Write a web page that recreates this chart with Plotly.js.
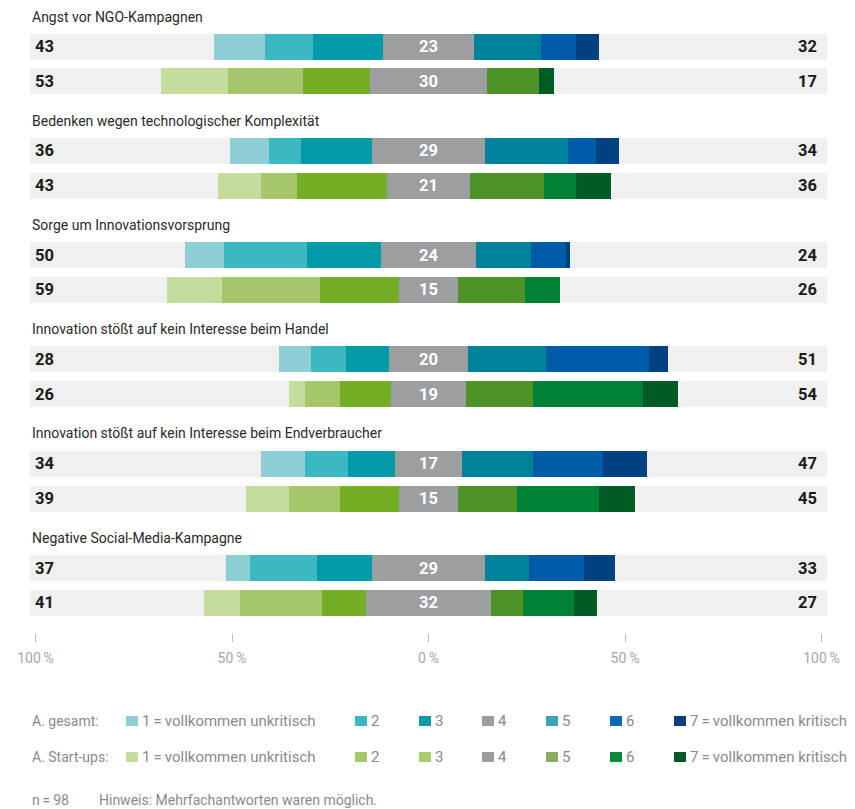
<!DOCTYPE html>
<html><head><meta charset="utf-8">
<script src="https://cdn.plot.ly/plotly-3.0.1.min.js"></script>
<style>html,body{margin:0;padding:0;background:#fff}#chart{width:855px;height:809px}</style>
</head><body><div id="chart"></div>
<script>
// ---------- data ----------
const categories = [
  "Angst vor NGO-Kampagnen",
  "Bedenken wegen technologischer Komplexität",
  "Sorge um Innovationsvorsprung",
  "Innovation stößt auf kein Interesse beim Handel",
  "Innovation stößt auf kein Interesse beim Endverbraucher",
  "Negative Social-Media-Kampagne"
];
const seriesNames = ["A. gesamt:", "A. Start-ups:"];
const levelLabels = ["1\u2009=\u2009vollkommen unkritisch", "2", "3", "4", "5", "6", "7\u2009=\u2009vollkommen kritisch"];

// A. gesamt, share per rating level (1..7) for each category
const gesamt1 = [13, 10, 10,  8, 11,  6];
const gesamt2 = [12,  8, 21,  9, 11, 17];
const gesamt3 = [18, 18, 19, 11, 12, 14];
const gesamt4 = [23, 29, 24, 20, 17, 29];
const gesamt5 = [17, 21, 14, 20, 18, 11];
const gesamt6 = [ 9,  7,  9, 26, 18, 14];
const gesamt7 = [ 6,  6,  1,  5, 11,  8];
// A. Start-ups
const startups1 = [17, 11, 14,  4, 11,  9];
const startups2 = [19,  9, 25,  9, 13, 21];
const startups3 = [17, 23, 20, 13, 15, 11];
const startups4 = [30, 21, 15, 19, 15, 32];
const startups5 = [13, 19, 17, 17, 15,  8];
const startups6 = [ 0,  8,  9, 28, 21, 13];
const startups7 = [ 4,  9,  0,  9,  9,  6];
// printed totals (1–3 left, 5–7 right)
const gesamtLeft   = [43, 36, 50, 28, 34, 37];
const gesamtRight  = [32, 34, 24, 51, 47, 33];
const startupsLeft  = [53, 43, 59, 26, 39, 41];
const startupsRight = [17, 36, 26, 54, 45, 27];
// axis
const tickVals = [-100, -50, 0, 50, 100];
const tickLabels = ["100\u2009%", "50\u2009%", "0\u2009%", "50\u2009%", "100\u2009%"];
const footN = "n\u2009=\u200998";
const footNote = "Hinweis: Mehrfachantworten waren möglich.";

// ---------- styles ----------
const barColors = [
  ["#8dcfd5", "#3db8c3", "#039ba8", "#9d9ea0", "#00829a", "#005ca8", "#00427f"],
  ["#c4dc9c", "#a6c66c", "#74ae25", "#9d9ea0", "#4e9327", "#008236", "#005b24"]
];
const legendColors = [
  ["#8dcfd5", "#3db8c3", "#0b9ba6", "#9d9d9d", "#3ba3b8", "#0b68b5", "#0c3f80"],
  ["#c4dc9c", "#a6c86a", "#a9ca6f", "#9d9d9d", "#8aae5e", "#0b8a3d", "#0a5a27"]
];
const W = 855, H = 809;
const X0PX = 428.5, PXPER = 3.93;
const px2x = px => (px - X0PX) / PXPER;
const BAND = 101.3;
const BAR_H = 26;
const FONT = "Roboto, 'Open Sans', sans-serif";

const series = [
  [gesamt1, gesamt2, gesamt3, gesamt4, gesamt5, gesamt6, gesamt7],
  [startups1, startups2, startups3, startups4, startups5, startups6, startups7]
];
const lefts = [gesamtLeft, startupsLeft];
const rights = [gesamtRight, startupsRight];

const yPos = (g, s) => 46.5 + g * 104.3 + s * 34.8;
const titleY = g => 16.5 + g * 104.2;

const traces = [];
// background bands
const allY = [];
categories.forEach((c, g) => { allY.push(yPos(g, 0), yPos(g, 1)); });
traces.push({
  type: 'bar', orientation: 'h', y: allY, x: allY.map(() => 2 * BAND),
  base: allY.map(() => -BAND), width: BAR_H,
  marker: { color: '#eff0ef', line: { width: 0 } }, hoverinfo: 'skip', showlegend: false
});

// segments
series.forEach((lv, s) => {
  const ys = categories.map((c, g) => yPos(g, s));
  const bases = [];
  for (let k = 0; k < 7; k++) bases.push([]);
  categories.forEach((c, g) => {
    const mid = lv[3][g];
    bases[3][g] = -mid / 2;
    bases[2][g] = -mid / 2 - lv[2][g];
    bases[1][g] = bases[2][g] - lv[1][g];
    bases[0][g] = bases[1][g] - lv[0][g];
    bases[4][g] = mid / 2;
    bases[5][g] = bases[4][g] + lv[4][g];
    bases[6][g] = bases[5][g] + lv[5][g];
  });
  for (let k = 0; k < 7; k++) {
    traces.push({
      type: 'bar', orientation: 'h', y: ys, x: lv[k], base: bases[k], width: BAR_H,
      name: seriesNames[s] + ' ' + levelLabels[k],
      marker: { color: barColors[s][k], line: { width: 0 } },
      hoverinfo: 'skip', showlegend: false
    });
  }
});

// ---------- annotations ----------
const ann = [];
categories.forEach((c, g) => {
  ann.push({ x: px2x(30), y: titleY(g), xref: 'x', yref: 'y', text: c, showarrow: false,
    xanchor: 'left', yanchor: 'middle', font: { family: FONT, size: 14, color: '#2a2a2a' } });
  for (let s = 0; s < 2; s++) {
    const y = yPos(g, s);
    ann.push({ x: px2x(33), y: y, xref: 'x', yref: 'y', text: '<b>' + lefts[s][g] + '</b>', showarrow: false,
      xanchor: 'left', yanchor: 'middle', font: { family: FONT, size: 16.5, color: '#1a1a1a' } });
    ann.push({ x: px2x(819), y: y, xref: 'x', yref: 'y', text: '<b>' + rights[s][g] + '</b>', showarrow: false,
      xanchor: 'right', yanchor: 'middle', font: { family: FONT, size: 16.5, color: '#1a1a1a' } });
    ann.push({ x: 0, y: y, xref: 'x', yref: 'y', text: '<b>' + series[s][3][g] + '</b>', showarrow: false,
      xanchor: 'center', yanchor: 'middle', font: { family: FONT, size: 16.5, color: '#ffffff' } });
  }
});

// legend
const shapes = [];
const legRowY = [721, 757];
const sqX = [126, 355, 419, 482, 546, 610, 674];
const legFont = { family: FONT, size: 15, color: '#8a8a8a' };
for (let s = 0; s < 2; s++) {
  ann.push({ x: px2x(30), y: legRowY[s], xref: 'x', yref: 'y', text: seriesNames[s], showarrow: false,
    xanchor: 'left', yanchor: 'middle', font: { family: FONT, size: 14, color: '#8a8a8a' } });
  for (let k = 0; k < 7; k++) {
    shapes.push({ type: 'rect', xref: 'x', yref: 'y', x0: px2x(sqX[k]), x1: px2x(sqX[k] + 12),
      y0: legRowY[s] - 5, y1: legRowY[s] + 5, fillcolor: legendColors[s][k], line: { width: 0 } });
    ann.push({ x: px2x(sqX[k] + 14), y: legRowY[s], xref: 'x', yref: 'y', text: levelLabels[k], showarrow: false,
      xanchor: 'left', yanchor: 'middle', font: legFont });
  }
}
// footer
ann.push({ x: px2x(30), y: 800, xref: 'x', yref: 'y', text: footN, showarrow: false,
  xanchor: 'left', yanchor: 'middle', font: { family: FONT, size: 14, color: '#8a8a8a' } });
ann.push({ x: px2x(97), y: 800, xref: 'x', yref: 'y', text: footNote, showarrow: false,
  xanchor: 'left', yanchor: 'middle', font: { family: FONT, size: 14, color: '#8a8a8a' } });

const layout = {
  width: W, height: H,
  margin: { l: 0, r: 0, t: 0, b: 0, pad: 0 },
  paper_bgcolor: '#ffffff', plot_bgcolor: '#ffffff',
  barmode: 'overlay', bargap: 0,
  showlegend: false, hovermode: false,
  font: { family: FONT },
  xaxis: {
    range: [px2x(0), px2x(W)], anchor: 'free', position: 1 - 633 / H,
    tickmode: 'array', tickvals: tickVals, ticktext: tickLabels,
    ticks: 'outside', ticklen: 8, tickwidth: 1, tickcolor: '#bdbdbd',
    ticklabelstandoff: 4,
    tickfont: { family: FONT, size: 14, color: '#a6a6a6' },
    showgrid: false, zeroline: false, showline: false, fixedrange: true
  },
  yaxis: { range: [H, 0], domain: [0, 1], visible: false, fixedrange: true },
  annotations: ann,
  shapes: shapes
};

Plotly.newPlot('chart', traces, layout, { displayModeBar: false, staticPlot: true });
</script>
</body></html>
